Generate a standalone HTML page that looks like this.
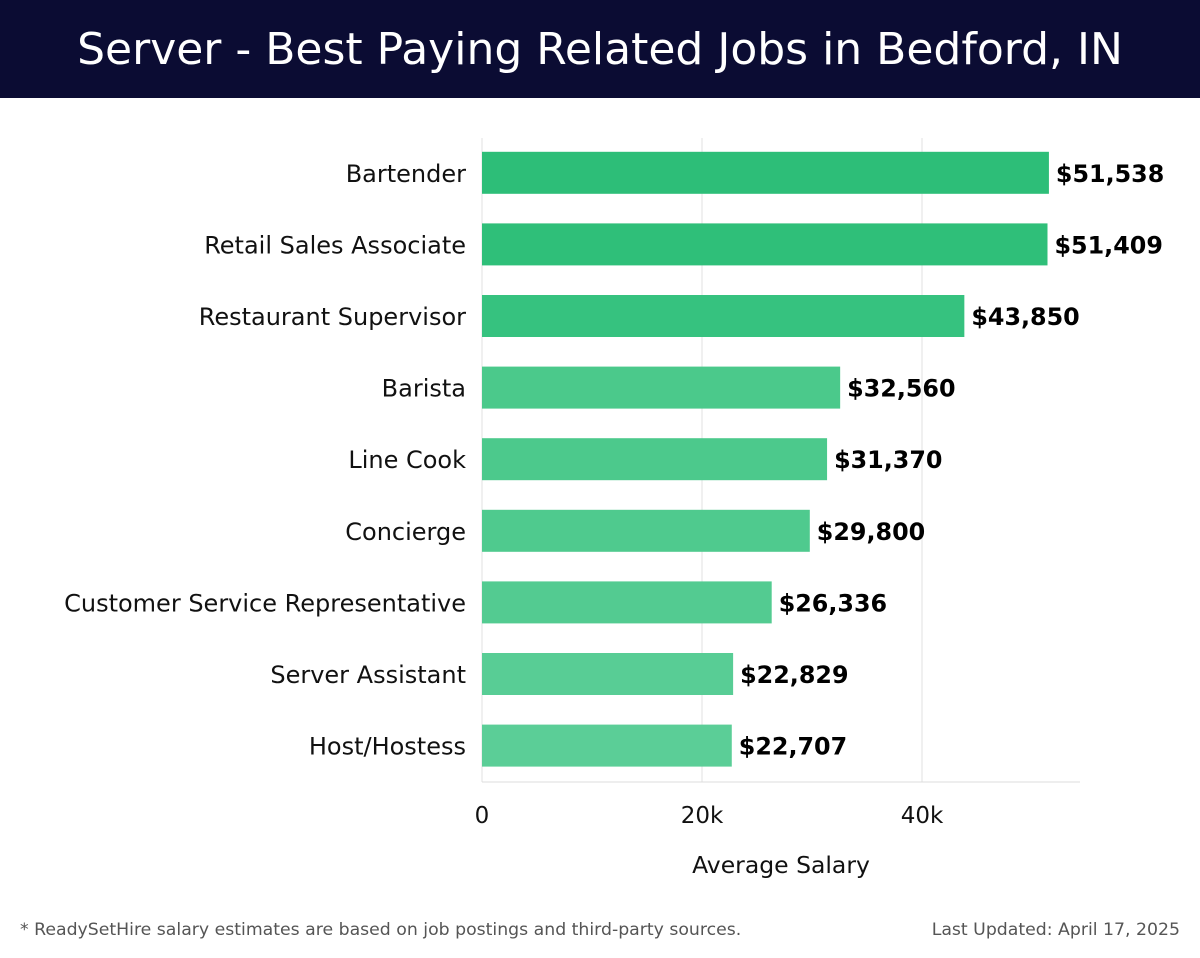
<!DOCTYPE html>
<html><head><meta charset="utf-8"><style>
body{margin:0;width:1200px;height:958px;background:#fff;font-family:"Liberation Sans","DejaVu Sans",sans-serif;overflow:hidden;position:relative}
#hdr{position:absolute;left:0;top:0;width:1200px;height:98px;background:#0b0c33;color:#fff;font-size:44px;text-align:center;line-height:100px;font-family:"DejaVu Sans","Liberation Sans",sans-serif;font-weight:normal}
.foot{position:absolute;top:920px;font-size:17.3px;color:#555;font-family:"DejaVu Sans",sans-serif}
</style></head><body>
<div id="hdr">Server - Best Paying Related Jobs in Bedford, IN</div>
<svg id="chart" width="1200" height="900" style="position:absolute;left:0;top:0"></svg>
<div class="foot" style="left:20px">* ReadySetHire salary estimates are based on job postings and third-party sources.</div>
<div class="foot" style="right:20px">Last Updated: April 17, 2025</div>
<script>
const categories=["Bartender","Retail Sales Associate","Restaurant Supervisor","Barista","Line Cook","Concierge","Customer Service Representative","Server Assistant","Host/Hostess"];
const values=[51538,51409,43850,32560,31370,29800,26336,22829,22707];
const labels=["$51,538","$51,409","$43,850","$32,560","$31,370","$29,800","$26,336","$22,829","$22,707"];
const colors=["#2dbe78","#2fbf79","#36c27f","#4bc98b","#4cc98c","#4fca8e","#53cb91","#58cd95","#5bce97"];
const ticks=[0,20000,40000];
const tickLabels=["0","20k","40k"];
const NS="http://www.w3.org/2000/svg";
const svg=document.getElementById('chart');
const x0=482,pxPer=220/20000,top0=138,step=71.6,bh=42;
const X=v=>x0+v*pxPer;
const Y=i=>top0+step*i+step/2-1;
function mk(t,a){const e=document.createElementNS(NS,t);for(const k in a)e.setAttribute(k,a[k]);svg.appendChild(e);return e;}
ticks.forEach((t,i)=>{
 const g=mk('line',{x1:X(t),x2:X(t),y1:138,y2:782,stroke:'#e0e0e0','stroke-width':1});
 
 
 const tl=mk('text',{x:X(t),y:823,'text-anchor':'middle','font-size':23,fill:'#111','font-family':'DejaVu Sans, sans-serif'});
 tl.textContent=tickLabels[i];
 
 
});
const ax=mk('line',{x1:482,x2:1080,y1:782,y2:782,stroke:'#ddd'});


categories.forEach((c,i)=>{
 const y=Y(i);
 const r=mk('rect',{x:X(0),y:y-bh/2,width:X(values[i])-X(0),height:bh,fill:colors[i]});
 
 
 const l=mk('text',{x:466,y:y+9,'text-anchor':'end','font-size':24,fill:'#111','font-family':'DejaVu Sans, sans-serif'});
 l.textContent=c;
 
 
 const v=mk('text',{x:X(values[i])+7,y:y+9,'font-size':23.8,'font-weight':'bold',fill:'#000','font-family':'DejaVu Sans, sans-serif'});
 v.textContent=labels[i];
 
 
});
const at=mk('text',{x:781,y:873,'text-anchor':'middle','font-size':23.5,fill:'#111','font-family':'DejaVu Sans, sans-serif'});
at.textContent="Average Salary";


</script>
</body></html>
